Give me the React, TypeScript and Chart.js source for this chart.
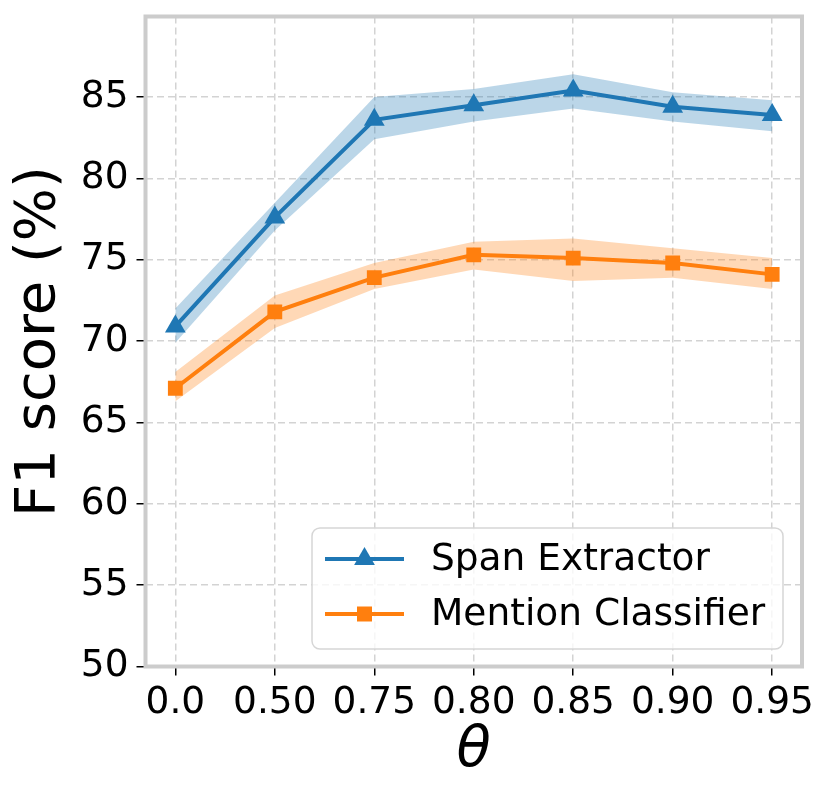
import React, { useRef, useEffect } from 'react'
import { Chart, registerables } from 'chart.js'

Chart.register(...registerables)

const BLUE = '#1f77b4'
const ORANGE = '#ff7f0e'
const FONT = "'DejaVu Sans', sans-serif"

const thetaLabels = ['0.0', '0.50', '0.75', '0.80', '0.85', '0.90', '0.95']
const yTicks = [50, 55, 60, 65, 70, 75, 80, 85]

const spanMean = [70.9, 77.6, 83.6, 84.5, 85.4, 84.4, 83.9]
const spanUpper = [72.0, 78.5, 85.0, 85.5, 86.4, 85.3, 84.8]
const spanLower = [69.9, 76.8, 82.4, 83.5, 84.3, 83.5, 82.9]

const mentionMean = [67.1, 71.8, 73.9, 75.3, 75.1, 74.8, 74.1]
const mentionUpper = [68.1, 72.8, 74.8, 76.1, 76.3, 75.7, 75.1]
const mentionLower = [66.3, 70.8, 73.2, 74.4, 73.7, 73.9, 73.2]

const legendItems = [
  { label: 'Span Extractor', color: BLUE, marker: 'triangle' },
  { label: 'Mention Classifier', color: ORANGE, marker: 'square' },
]

const pts = (arr: number[]) => arr.map((y, x) => ({ x, y }))

// grey box round the plot and the legend inside it
const framePlugin = {
  id: 'frameAndLegend',
  afterDraw(chart: Chart) {
    const { ctx, chartArea } = chart
    const { left, right, top, bottom } = chartArea
    ctx.save()
    ctx.strokeStyle = '#cccccc'
    ctx.lineWidth = 4
    ctx.strokeRect(left, top, right - left, bottom - top)

    // legend
    const w = 471
    const h = 121
    const bx = right - 19 - w
    const by = bottom - 17.5 - h
    ctx.beginPath()
    ctx.roundRect(bx, by, w, h, 8)
    ctx.fillStyle = 'rgba(255,255,255,0.8)'
    ctx.fill()
    ctx.strokeStyle = '#d6d6d6'
    ctx.lineWidth = 1.5
    ctx.stroke()

    legendItems.forEach((item, i) => {
      const cy = by + 31 + i * 55
      const x1 = bx + 13
      const x2 = bx + 92
      const mx = (x1 + x2) / 2
      ctx.strokeStyle = item.color
      ctx.lineWidth = 4
      ctx.beginPath()
      ctx.moveTo(x1, cy)
      ctx.lineTo(x2, cy)
      ctx.stroke()
      ctx.fillStyle = item.color
      ctx.beginPath()
      if (item.marker === 'triangle') {
        const r = 12
        ctx.moveTo(mx, cy - r)
        ctx.lineTo(mx + r * 0.866, cy + r * 0.5)
        ctx.lineTo(mx - r * 0.866, cy + r * 0.5)
        ctx.closePath()
      } else {
        ctx.rect(mx - 7.5, cy - 7.5, 15, 15)
      }
      ctx.fill()
      ctx.fillStyle = '#000'
      ctx.font = `37.5px ${FONT}`
      ctx.textBaseline = 'middle'
      ctx.textAlign = 'left'
      ctx.fillText(item.label, bx + 119, cy + 1)
    })
    ctx.restore()
  },
}

const gridOpts = {
  color: '#d3d3d3',
  lineWidth: 1.5,
  tickColor: '#000',
  tickLength: 9,
  tickWidth: 1.5,
  tickBorderDash: [],
}

const App: React.FC = () => {
  const canvasRef = useRef<HTMLCanvasElement>(null)

  useEffect(() => {
    const canvas = canvasRef.current
    if (!canvas) return

    const band = (data: number[], color: string, fill: string | false) => ({
      data: pts(data),
      borderWidth: 0,
      pointRadius: 0,
      backgroundColor: color,
      fill,
      order: 10,
    })

    const chart = new Chart(canvas, {
      type: 'line',
      data: {
        datasets: [
          {
            label: 'Span Extractor',
            data: pts(spanMean),
            borderColor: BLUE,
            backgroundColor: BLUE,
            borderWidth: 4,
            pointStyle: 'triangle',
            pointRadius: 12,
            pointBorderWidth: 0,
            fill: false,
            order: 1,
          },
          {
            label: 'Mention Classifier',
            data: pts(mentionMean),
            borderColor: ORANGE,
            backgroundColor: ORANGE,
            borderWidth: 4,
            pointStyle: 'rect',
            pointRadius: 10.5,
            pointBorderWidth: 0,
            fill: false,
            order: 2,
          },
          band(spanUpper, 'rgba(31,119,180,0.3)', '+1'),
          band(spanLower, 'rgba(31,119,180,0.3)', false),
          band(mentionUpper, 'rgba(255,127,14,0.3)', '+1'),
          band(mentionLower, 'rgba(255,127,14,0.3)', false),
        ],
      },
      options: {
        animation: false,
        responsive: false,
        layout: { padding: { top: 16.5, right: 29, left: 0, bottom: 0 } },
        plugins: { legend: { display: false }, tooltip: { enabled: false } },
        scales: {
          x: {
            type: 'linear',
            min: -0.3,
            max: 6.3,
            afterBuildTicks: (s: any) => {
              s.ticks = thetaLabels.map((_, i) => ({ value: i }))
            },
            afterFit: (s: any) => {
              s.height = 136.5
              s.paddingLeft = 0
              s.paddingRight = 0
            },
            ticks: {
              callback: (v: any) => thetaLabels[v] ?? '',
              color: '#000',
              font: { family: FONT, size: 37.5 },
              padding: 5,
              maxRotation: 0,
              autoSkip: false,
            },
            grid: gridOpts,
            border: { display: false, dash: [7, 4] },
            title: {
              display: true,
              text: 'θ',
              color: '#000',
              font: { family: FONT, size: 56, style: 'italic' },
              padding: { bottom: 18 },
            },
          },
          y: {
            type: 'linear',
            min: 50,
            max: 89.95,
            afterBuildTicks: (s: any) => {
              s.ticks = yTicks.map((value) => ({ value }))
            },
            afterFit: (s: any) => {
              s.width = 145.5
              s.paddingTop = 0
              s.paddingBottom = 0
            },
            ticks: {
              color: '#000',
              font: { family: FONT, size: 37.5 },
              padding: 8,
            },
            grid: gridOpts,
            border: { display: false, dash: [7, 4] },
            title: {
              display: true,
              text: 'F1 score (%)',
              color: '#000',
              font: { family: FONT, size: 56 },
              padding: { top: 6 },
            },
          },
        },
      },
      plugins: [framePlugin],
    })

    return () => {
      chart.destroy()
    }
  }, [])

  return (
    <div style={{ position: 'absolute', left: 0, top: 0, width: 831, height: 803, background: '#fff' }}>
      <canvas ref={canvasRef} width={831} height={803} />
    </div>
  )
}

export default App
